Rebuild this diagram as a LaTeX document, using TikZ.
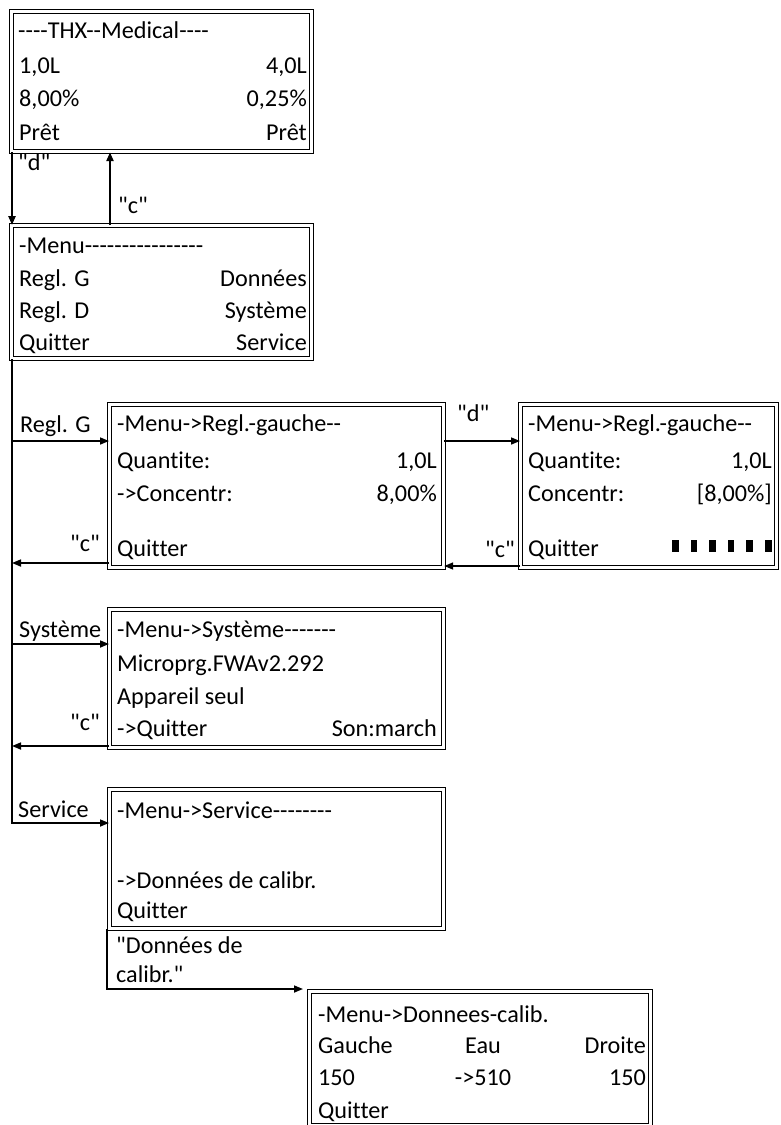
\documentclass[tikz,border=0pt]{standalone}
\usepackage{fontspec}
\setmainfont{Carlito}[Ligatures={TeXOff,NoCommon}]
\usetikzlibrary{arrows.meta, positioning, calc}

\begin{document}
\begin{tikzpicture}[
  x=1pt, y=-1pt,
  every node/.style={font=\fontsize{24.2}{28}\selectfont, inner sep=0pt},
  screen/.style={draw, double, double distance=2.6pt, line width=1.2pt, anchor=north west},
  lt/.style={anchor=base west},
  rt/.style={anchor=base east},
  arr/.style={-{Triangle[length=9pt,width=7pt]}, line width=1.6pt},
  tarr/.style={-{Triangle[length=9pt,width=7pt]}, line width=2.3pt},
]
\useasboundingbox (0,0) rectangle (781,1125);
\clip (0,0) rectangle (781,1125);

% screens
\node[screen, minimum width=300pt, minimum height=140pt] (thx) at (11,11) {};
\node[screen, minimum width=300pt, minimum height=133pt] (menu) at (11,225) {};
\node[screen, minimum width=334pt, minimum height=163pt] (regg) at (109,404) {};
\node[screen, minimum width=256pt, minimum height=163pt] (edit) at (520,404) {};
\node[screen, minimum width=334pt, minimum height=138pt] (syst) at (109,609) {};
\node[screen, minimum width=334pt, minimum height=139pt] (serv) at (109,789) {};
\node[screen, minimum width=341pt, minimum height=134pt] (calib) at (309,991) {};

% THX
\node[lt] (thx1) at (18,38) {----THX--Medical----};
\node[lt] (thx2l) at (19,73) {1,0L};
\node[rt] (thx2r) at (307,73) {4,0L};
\node[lt] (thx3l) at (19,106) {8,00\%};
\node[rt] (thx3r) at (307,106) {0,25\%};
\node[lt] (thx4l) at (19,140) {Prêt};
\node[rt] (thx4r) at (307,140) {Prêt};

% menu
\node[lt] (menu1) at (19,253) {-Menu----------------};
\node[lt] (menu2l) at (19,286) {Regl. G};
\node[rt] (menu2r) at (307,286) {Données};
\node[lt] (menu3l) at (19,318) {Regl. D};
\node[rt] (menu3r) at (307,318) {Système};
\node[lt] (menu4l) at (19,350) {Quitter};
\node[rt] (menu4r) at (307,350) {Service};

% regl. gauche
\node[lt] (regg1) at (117,431) {-Menu->Regl.-gauche--};
\node[lt] (regg2l) at (117,468) {Quantite:};
\node[rt] (regg2r) at (437,468) {1,0L};
\node[lt] (regg3l) at (117,501) {->Concentr:};
\node[rt] (regg3r) at (437,501) {8,00\%};
\node[lt] (regg4) at (117,556) {Quitter};

% regl. gauche, edition
\node[lt] (edit1) at (528,431) {-Menu->Regl.-gauche--};
\node[lt] (edit2l) at (528,468) {Quantite:};
\node[rt] (edit2r) at (772,468) {1,0L};
\node[lt] (edit3l) at (528,501) {Concentr:};
\node[rt] (edit3r) at (772,501) {[8,00\%]};
\node[lt] (edit4) at (528,556) {Quitter};
\foreach \i in {0,...,5}
  \fill (672+18.6*\i,540) rectangle ++(6.5,12);

% systeme
\node[lt] (syst1) at (117,637) {-Menu->Système-------};
\node[lt] (syst2) at (117,671) {Microprg.FWAv2.292};
\node[lt] (syst3) at (117,704) {Appareil seul};
\node[lt] (syst4l) at (117,736) {->Quitter};
\node[rt] (syst4r) at (437,736) {Son:march};

% service
\node[lt] (serv1) at (117,818) {-Menu->Service--------};
\node[lt] (serv2) at (117,888) {->Données de calibr.};
\node[lt] (serv3) at (117,918) {Quitter};

% donnees calib.
\node[lt] (calib1) at (318,1022) {-Menu->Donnees-calib.};
\node[lt] (calib2l) at (318,1053) {Gauche};
\node[anchor=base] (calib2m) at (483,1053) {Eau};
\node[rt] (calib2r) at (646,1053) {Droite};
\node[lt] (calib3l) at (318,1085) {150};
\node[anchor=base] (calib3m) at (483,1085) {->510};
\node[rt] (calib3r) at (646,1085) {150};
\node[lt] (calib4) at (318,1118) {Quitter};

% key labels
\node[lt] (kd1) at (18,170) {"d"};
\node[lt] (kc1) at (118,213) {"c"};
\node[lt] (kgauche) at (20,432) {Regl. G};
\node[rt] (kc2) at (100,551) {"c"};
\node[lt] (ksyst) at (19,637) {Système};
\node[rt] (kc3) at (100,730) {"c"};
\node[lt] (kserv) at (18,817) {Service};
\node[lt] (kd2) at (457,421) {"d"};
\node[rt] (kc4) at (515,557) {"c"};
\node[lt] (kcal1) at (116,953) {"Données de};
\node[lt] (kcal2) at (116,982) {calibr."};

\coordinate (yg) at (0,441);
\coordinate (ygc) at (0,563);
\coordinate (ys) at (0,644);
\coordinate (ysc) at (0,746);
\coordinate (yv) at (0,823);
\coordinate (yd) at (0,441);
\coordinate (ydc) at (0,566);
\coordinate (ycal) at (0,989);

\draw[tarr] ([xshift=1pt]thx.south west) -- ([xshift=1pt]menu.north west);
\draw[tarr] ($(menu.north west)+(99,0)$) -- ($(thx.south west)+(99,0)$);

\draw[arr] ([xshift=1pt]menu.south west) |- (yv -| serv.west);
\draw[arr] (yg -| menu.west) ++(1,0) -- (yg -| regg.west);
\draw[arr] (ygc -| regg.west) -- ([xshift=1pt]ygc -| menu.west);
\draw[arr] (ys -| menu.west) ++(1,0) -- (ys -| syst.west);
\draw[arr] (ysc -| syst.west) -- ([xshift=1pt]ysc -| menu.west);

\draw[arr] (yd -| regg.east) -- (yd -| edit.west);
\draw[arr] (ydc -| edit.west) -- (ydc -| regg.east);

\draw[arr] ([xshift=-2pt]serv.south west) |- ([xshift=-6pt]ycal -| calib.west);

\end{tikzpicture}
\end{document}
